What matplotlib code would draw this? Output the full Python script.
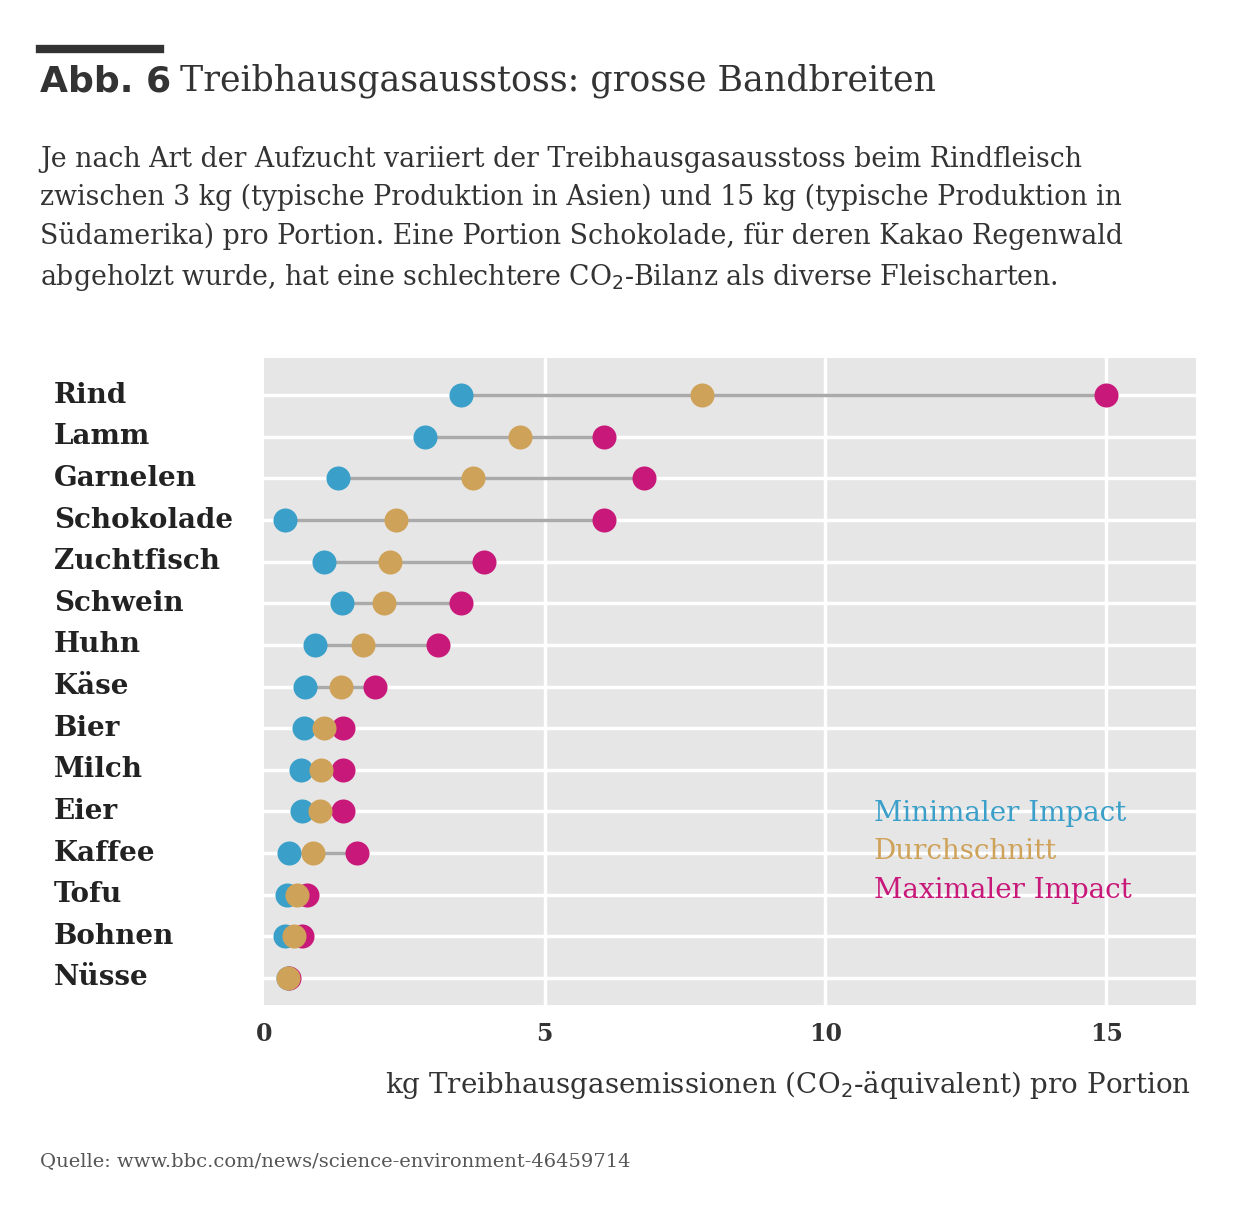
import numpy as np
import matplotlib.pyplot as plt

foods = ["Rind", "Lamm", "Garnelen", "Schokolade", "Zuchtfisch", "Schwein", "Huhn",
         "Käse", "Bier", "Milch", "Eier", "Kaffee", "Tofu", "Bohnen", "Nüsse"]
min_impact = [3.5, 2.87, 1.32, 0.37, 1.07, 1.39, 0.91, 0.73, 0.71, 0.66, 0.68, 0.45, 0.41, 0.37, 0.42]
avg_impact = [7.8, 4.56, 3.73, 2.35, 2.25, 2.14, 1.76, 1.37, 1.07, 1.02, 1.0, 0.87, 0.59, 0.53, 0.43]
max_impact = [15.0, 6.06, 6.76, 6.06, 3.92, 3.51, 3.1, 1.98, 1.41, 1.41, 1.41, 1.66, 0.77, 0.68, 0.44]
xticks = [0, 5, 10, 15]

BLUE, GOLD, MAG = "#3a9fc9", "#cfa25a", "#c8197a"
SERIF = "DejaVu Serif"

fig = plt.figure(figsize=(12.36, 12.06), dpi=100)
ax = fig.add_axes([0.2136, 0.1667, 0.754, 0.5363])
ax.set_facecolor("#e6e6e6")
y = np.arange(len(foods))

for yi in y:
    ax.axhline(yi, color="white", lw=2.5, zorder=0)
for xt in xticks[1:]:
    ax.axvline(xt, color="white", lw=2.5, zorder=0)

ax.hlines(y, min_impact, max_impact, color="#aaaaaa", lw=2.5, zorder=1)
ax.scatter(min_impact, y, s=300, color=BLUE, zorder=2, lw=0)
ax.scatter(max_impact, y, s=300, color=MAG, zorder=3, lw=0)
ax.scatter(avg_impact, y, s=300, color=GOLD, zorder=4, lw=0)

ax.set_xlim(0, 16.6)
ax.set_ylim(14.65, -0.89)
ax.set_xticks(xticks)
ax.set_xticklabels([str(t) for t in xticks], fontsize=17, family=SERIF,
                   weight="bold", color="#333333")
ax.tick_params(axis="x", length=0, pad=12)
ax.set_yticks([])
for s in ax.spines.values():
    s.set_visible(False)

for yi, name in zip(y, foods):
    ypos = ax.transLimits.transform((0, yi))[1] * 0.5363 + 0.1667
    fig.text(54 / 1236, ypos, name, fontsize=20, family=SERIF, weight="semibold",
             color="#222222", va="center")

ax.text(0.654, 0.285, "Minimaler Impact", transform=ax.transAxes, color=BLUE, fontsize=20, family=SERIF)
ax.text(0.654, 0.225, "Durchschnitt", transform=ax.transAxes, color=GOLD, fontsize=20, family=SERIF)
ax.text(0.654, 0.165, "Maximaler Impact", transform=ax.transAxes, color=MAG, fontsize=20, family=SERIF)

fig.text(1191 / 1236, 1 - 1085 / 1206, "kg Treibhausgasemissionen (CO$_2$-äquivalent) pro Portion",
         ha="right", va="center", fontsize=20, family=SERIF, color="#333333")

fig.add_artist(plt.Line2D([40 / 1236, 160 / 1236], [1 - 49 / 1206] * 2, color="#333333", lw=6))
fig.text(40 / 1236, 1 - 81 / 1206, "Abb. 6", fontsize=26, weight="bold", family="DejaVu Sans",
         color="#333333", va="center")
fig.text(180 / 1236, 1 - 81 / 1206, "Treibhausgasausstoss: grosse Bandbreiten", fontsize=25,
         family=SERIF, color="#333333", va="center")
sub = ("Je nach Art der Aufzucht variiert der Treibhausgasausstoss beim Rindfleisch\n"
       "zwischen 3 kg (typische Produktion in Asien) und 15 kg (typische Produktion in\n"
       "Südamerika) pro Portion. Eine Portion Schokolade, für deren Kakao Regenwald\n"
       "abgeholzt wurde, hat eine schlechtere CO$_2$-Bilanz als diverse Fleischarten.")
fig.text(40 / 1236, 1 - 146 / 1206, sub, fontsize=19.3, family=SERIF, color="#333333",
         va="top", linespacing=1.5)
fig.text(40 / 1236, 1 - 1161 / 1206, "Quelle: www.bbc.com/news/science-environment-46459714",
         fontsize=14, family=SERIF, color="#555555", va="center")

fig.savefig("out.png", dpi=100)
